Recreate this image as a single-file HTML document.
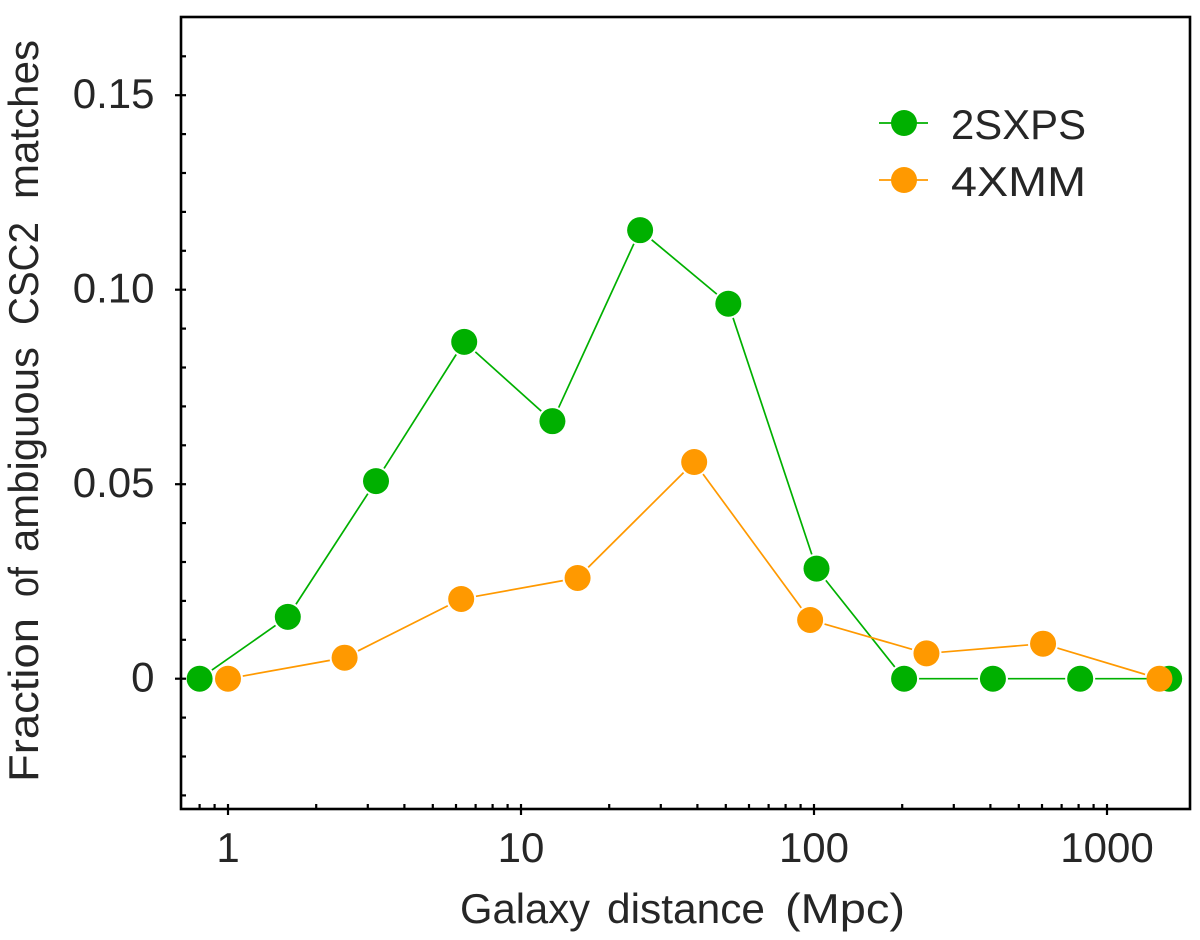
<!DOCTYPE html>
<html>
<head>
<meta charset="utf-8">
<title>Fraction of ambiguous CSC2 matches</title>
<style>
html,body{margin:0;padding:0;background:#fff;}
svg{display:block;}
text{font-family:"Liberation Sans",sans-serif;fill:#262626;font-size:42px;}
</style>
</head>
<body>
<svg id="chart" width="1200" height="940" viewBox="0 0 1200 940" xmlns="http://www.w3.org/2000/svg">
<g id="ticks"></g>
<g id="labels"></g>
<g id="series"></g>
<rect x="181" y="17" width="1009" height="792" fill="none" stroke="#000" stroke-width="2.6"/>
<text y="923"><tspan x="460" textLength="130" lengthAdjust="spacingAndGlyphs">Galaxy</tspan> <tspan x="607" textLength="158" lengthAdjust="spacingAndGlyphs">distance</tspan> <tspan x="785" textLength="120" lengthAdjust="spacingAndGlyphs">(Mpc)</tspan></text>
<text transform="translate(38,0) rotate(-90)"><tspan x="-782" textLength="164" lengthAdjust="spacingAndGlyphs">Fraction</tspan> <tspan x="-597" textLength="30" lengthAdjust="spacingAndGlyphs">of</tspan> <tspan x="-552" textLength="205" lengthAdjust="spacingAndGlyphs">ambiguous</tspan> <tspan x="-325" textLength="103" lengthAdjust="spacingAndGlyphs">CSC2</tspan> <tspan x="-199" textLength="159" lengthAdjust="spacingAndGlyphs">matches</tspan></text>
<g>
<line x1="879" x2="928" y1="123" y2="123" stroke="#00b000" stroke-width="1.8"/>
<circle cx="904" cy="123" r="13" fill="#00b000"/>
<text x="951" y="139" textLength="135" lengthAdjust="spacingAndGlyphs">2SXPS</text>
<line x1="879" x2="928" y1="180" y2="180" stroke="#ff9900" stroke-width="1.8"/>
<circle cx="904" cy="180" r="13" fill="#ff9900"/>
<text x="951" y="196" textLength="135" lengthAdjust="spacingAndGlyphs">4XMM</text>
</g>
</svg>
<script>
const xTicks = [1, 10, 100, 1000];
const xTickLabels = ['1', '10', '100', '1000'];
const xMinorDecades = [0.1, 1, 10, 100];
const xMinorSteps = [2, 3, 4, 5, 6, 7, 8, 9];
const yTicks = [0, 0.05, 0.10, 0.15];
const yTickLabels = ['0', '0.05', '0.10', '0.15'];
const yMinorTicks = [-0.03, -0.02, -0.01, 0.01, 0.02, 0.03, 0.04, 0.06, 0.07, 0.08, 0.09, 0.11, 0.12, 0.13, 0.14, 0.16];

const sxpsDistance = [0.8, 1.6, 3.2, 6.4, 12.8, 25.5, 51, 102, 203, 408, 810, 1630];
const sxpsFraction = [0, 0.0159, 0.0508, 0.0866, 0.0662, 0.1153, 0.0964, 0.0283, 0, 0, 0, 0];
const xmmDistance = [1, 2.5, 6.25, 15.6, 39, 97, 242, 605, 1510];
const xmmFraction = [0, 0.0054, 0.0205, 0.0259, 0.0557, 0.0151, 0.0065, 0.009, 0];

const NS = 'http://www.w3.org/2000/svg';
const PLOT_LEFT = 181, PLOT_RIGHT = 1190, PLOT_BOTTOM = 809;
const xScale = d => 228 + 293 * Math.log10(d);
const yScale = v => 678.7 - 3890 * v;

function make(tag, attrs, parent) {
  const el = document.createElementNS(NS, tag);
  for (const k in attrs) el.setAttribute(k, attrs[k]);
  parent.appendChild(el);
  return el;
}

const tickLayer = document.getElementById('ticks');
const labelLayer = document.getElementById('labels');
const seriesLayer = document.getElementById('series');
const tickStyle = {stroke: '#000', 'stroke-width': 2.2};

xTicks.forEach((t, i) => {
  const x = xScale(t);
  const tick = make('line', {x1: x, x2: x, y1: PLOT_BOTTOM - 5, y2: PLOT_BOTTOM + 6, ...tickStyle}, tickLayer);
  
  
  const label = make('text', {x: x, y: 862, 'text-anchor': 'middle'}, labelLayer);
  
  
  label.textContent = xTickLabels[i];
});

xMinorDecades.forEach(dec => {
  xMinorSteps.forEach(s => {
    const x = xScale(dec * s);
    if (x < PLOT_LEFT + 5 || x > PLOT_RIGHT - 5) return;
    const tick = make('line', {x1: x, x2: x, y1: PLOT_BOTTOM - 5, y2: PLOT_BOTTOM, ...tickStyle}, tickLayer);
    
    
  });
});

yTicks.forEach((t, i) => {
  const y = yScale(t);
  const tick = make('line', {x1: PLOT_LEFT - 6, x2: PLOT_LEFT + 5, y1: y, y2: y, ...tickStyle}, tickLayer);
  
  
  const label = make('text', {x: 154.5, y: y + 13, 'text-anchor': 'end'}, labelLayer);
  
  
  label.textContent = yTickLabels[i];
});

yMinorTicks.forEach(t => {
  const y = yScale(t);
  const tick = make('line', {x1: PLOT_LEFT, x2: PLOT_LEFT + 5, y1: y, y2: y, ...tickStyle}, tickLayer);
  
  
});

function drawSeries(name, xs, ys, color) {
  const group = make('g', {}, seriesLayer);
  
  
  const px = xs.map(xScale);
  const py = ys.map(yScale);
  const gap = 15;
  for (let i = 0; i < px.length - 1; i++) {
    const dx = px[i + 1] - px[i], dy = py[i + 1] - py[i];
    const len = Math.hypot(dx, dy);
    if (len <= 2 * gap) continue;
    const ux = dx / len, uy = dy / len;
    const seg = make('line', {
      x1: px[i] + ux * gap, y1: py[i] + uy * gap,
      x2: px[i + 1] - ux * gap, y2: py[i + 1] - uy * gap,
      stroke: color, 'stroke-width': 1.7
    }, group);
    
    
  }
  px.forEach((x, i) => {
    const pt = make('circle', {cx: x, cy: py[i], r: 13, fill: color}, group);
    
    
  });
}

drawSeries('2sxps', sxpsDistance, sxpsFraction, '#00b000');
drawSeries('4xmm', xmmDistance, xmmFraction, '#ff9900');
</script>
</body>
</html>
